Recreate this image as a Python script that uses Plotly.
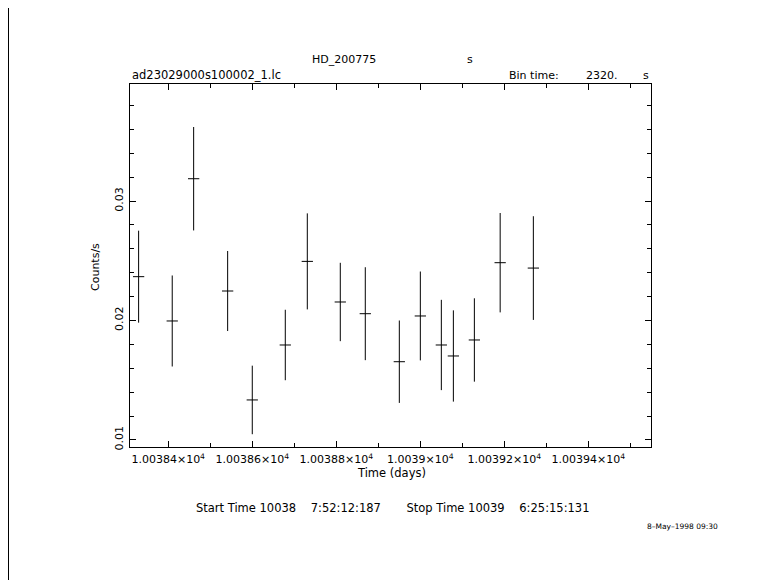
import plotly.graph_objects as go

# Data
time_days = [10038.3295, 10038.4095, 10038.4605, 10038.5414, 10038.6000, 10038.6786,
             10038.7310, 10038.8095, 10038.8690, 10038.9500, 10039.0000, 10039.0500,
             10039.0786, 10039.1286, 10039.1900, 10039.2690]
rate = [0.02367, 0.01996, 0.03187, 0.02247, 0.01335, 0.01795,
        0.02495, 0.02155, 0.02057, 0.01655, 0.02038, 0.01795,
        0.01703, 0.01837, 0.02484, 0.02439]
rate_err = [0.00385, 0.00381, 0.00433, 0.00335, 0.00287, 0.00295,
            0.00402, 0.00328, 0.00389, 0.00345, 0.00372, 0.00378,
            0.00382, 0.00349, 0.00416, 0.00434]
bin_time_s = 2320.0
half_bin_days = bin_time_s / 86400.0 / 2.0

x_tickvals = [10038.4, 10038.6, 10038.8, 10039.0, 10039.2, 10039.4]
x_ticktext = ["1.00384×10<sup>4</sup>", "1.00386×10<sup>4</sup>", "1.00388×10<sup>4</sup>",
              "1.0039×10<sup>4</sup>", "1.00392×10<sup>4</sup>", "1.00394×10<sup>4</sup>"]
y_tickvals = [0.01, 0.02, 0.03]
y_ticktext = ["0.01", "0.02", "0.03"]

# page offset of the figure (browser body margin)
OFF = 8
W, H = 781 - OFF, 580 - OFF
# plot box in page pixels
L, R, T, B = 130, 651, 84, 447

def px(x):
    return (x - L) / (R - L)

def py(y):
    return (B - y) / (B - T)

FONT = "DejaVu Sans"

fig = go.Figure()
fig.add_trace(go.Scatter(
    x=time_days, y=rate, mode="markers",
    marker=dict(size=1, color="black", opacity=0),
    error_y=dict(type="data", array=rate_err, visible=True, color="black", thickness=1, width=0),
    error_x=dict(type="constant", value=half_bin_days, visible=True, color="black", thickness=1, width=0),
    showlegend=False, hoverinfo="skip"))

axis_common = dict(showgrid=False, zeroline=False, showline=True, linecolor="black", linewidth=1,
                   mirror="ticks", ticks="inside", ticklen=6, tickwidth=1, tickcolor="black",
                   tickfont=dict(family=FONT, size=11, color="black"))

fig.update_xaxes(range=[10038.309, 10039.549], tickvals=x_tickvals, ticktext=x_ticktext,
                 minor=dict(dtick=0.1, tick0=10038.4, ticks="inside", ticklen=4, tickwidth=1, tickcolor="black"),
                 ticklabelstandoff=2, **axis_common)
fig.update_yaxes(range=[0.00941, 0.0398], tickvals=y_tickvals, ticktext=y_ticktext, tickangle=-90,
                 minor=dict(dtick=0.002, tick0=0.01, ticks="inside", ticklen=4, tickwidth=1, tickcolor="black"),
                 ticklabelstandoff=2, **axis_common)

def ann(text, x, y, xanchor="center", size=11, angle=0):
    fig.add_annotation(text=text, x=px(x), y=py(y), xref="paper", yref="paper",
                       xanchor=xanchor, yanchor="middle", showarrow=False, textangle=angle,
                       font=dict(family=FONT, size=size, color="black"))

NB = "\u00a0"
ann("HD_200775", 344, 59)
ann("s", 470, 59)
ann("ad23029000s100002_1.lc", 130, 75, xanchor="left", size=11.5)
ann("Bin time:", 507, 75, xanchor="left")
ann("2320.", 584, 75, xanchor="left")
ann("s", 646, 75)
ann("Time (days)", 391, 473, size=11.5)
ann("Counts/s", 95, 267, angle=-90)
ann("Start Time 10038" + NB * 4 + "7:52:12:187" + NB * 7 + "Stop Time 10039" + NB * 4 + "6:25:15:131",
    392, 508, size=11.5)
ann("8\u2013May\u20131998 09:30", 645, 526, xanchor="left", size=7.5)

# thin frame line at the left border of the page
fig.add_shape(type="line", xref="paper", yref="paper", x0=px(OFF + 0.5), x1=px(OFF + 0.5),
              y0=py(OFF), y1=py(580), line=dict(color="black", width=1))

fig.update_layout(width=W, height=H,
                  margin=dict(l=L - OFF, r=781 - R, t=T - OFF, b=580 - B, pad=0),
                  paper_bgcolor="white", plot_bgcolor="white")

fig.write_html("out.html")
